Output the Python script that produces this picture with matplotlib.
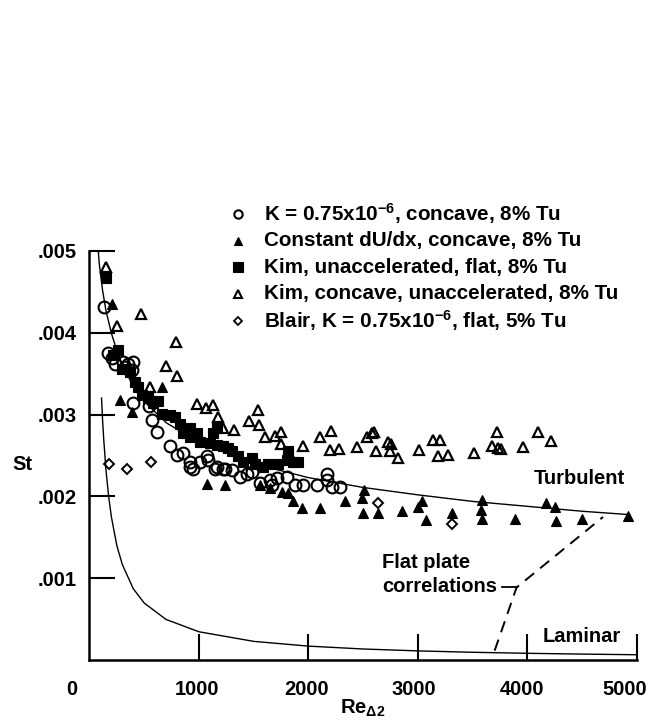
import matplotlib
matplotlib.use("Agg")
import matplotlib.pyplot as plt
from matplotlib.transforms import ScaledTranslation, offset_copy

plt.rcParams['font.family'] = ['Liberation Sans', 'DejaVu Sans']
plt.rcParams['font.weight'] = 'bold'
plt.rcParams['font.size'] = 14.5
plt.rcParams['mathtext.fontset'] = 'custom'
plt.rcParams['mathtext.bf'] = 'Liberation Sans:bold'
plt.rcParams['mathtext.rm'] = 'Liberation Sans:bold'
plt.rcParams['mathtext.it'] = 'Liberation Sans:bold'
plt.rcParams['mathtext.default'] = 'bf'

# --- K = 0.75e-6, concave, 8% Tu (open circles)
circ_re = [132, 172, 202, 233, 309, 324, 354, 385, 400, 400, 540, 568, 613, 735,
           796, 850, 918, 918, 948, 1009, 1070, 1085, 1146, 1161, 1222, 1237, 1298,
           1374, 1435, 1481, 1557, 1648, 1663, 1709, 1800, 1876, 1952, 2074, 2165,
           2165, 2211, 2287]
circ_st = [0.00431, 0.00375, 0.00369, 0.00362, 0.00364, 0.00358, 0.00362, 0.00354,
           0.00364, 0.00314, 0.00310, 0.00293, 0.00279, 0.00261, 0.00251, 0.00253,
           0.00242, 0.00236, 0.00234, 0.00242, 0.00249, 0.00245, 0.00234, 0.00236,
           0.00234, 0.00233, 0.00232, 0.00224, 0.00228, 0.00230, 0.00216, 0.00220,
           0.00214, 0.00222, 0.00224, 0.00214, 0.00214, 0.00214, 0.00228, 0.00220,
           0.00212, 0.00212]

# --- Constant dU/dx, concave, 8% Tu (filled triangles)
ftri_re = [202, 279, 385, 659, 1070, 1237, 1557, 1648, 1755, 1815, 1861, 1937, 2104,
           2333, 2485, 2506, 2494, 2637, 2850, 3002, 3033, 3072, 3307, 3572, 3581,
           3581, 3885, 4168, 4250, 4259, 4494, 4919]
ftri_st = [0.00435, 0.00318, 0.00303, 0.00333, 0.00215, 0.00214, 0.00214, 0.00210,
           0.00206, 0.00204, 0.00194, 0.00186, 0.00186, 0.00194, 0.00198, 0.00208,
           0.00180, 0.00180, 0.00182, 0.00187, 0.00194, 0.00171, 0.00180, 0.00184,
           0.00196, 0.00173, 0.00173, 0.00192, 0.00187, 0.00170, 0.00173, 0.00176]

# --- Kim, unaccelerated, flat, 8% Tu (filled squares)
sq_re = [151, 217, 263, 294, 370, 415, 446, 477, 537, 583, 628, 659, 735, 781, 826,
         857, 918, 918, 979, 1009, 1100, 1130, 1161, 1161, 1222, 1267, 1298, 1359,
         1404, 1481, 1511, 1587, 1632, 1724, 1800, 1815, 1861, 1906]
sq_st = [0.00466, 0.00373, 0.00379, 0.00356, 0.00352, 0.00340, 0.00334, 0.00324,
         0.00320, 0.00314, 0.00316, 0.00301, 0.00299, 0.00297, 0.00289, 0.00278,
         0.00283, 0.00273, 0.00277, 0.00267, 0.00265, 0.00277, 0.00283, 0.00263,
         0.00261, 0.00259, 0.00255, 0.00249, 0.00242, 0.00247, 0.00240, 0.00236,
         0.00240, 0.00240, 0.00245, 0.00255, 0.00242, 0.00242]

# --- Kim, concave, unaccelerated, 8% Tu (open triangles)
otri_re = [148, 254, 370, 470, 552, 698, 790, 802, 979, 1064, 1131, 1176, 1222, 1322,
           1459, 1541, 1548, 1602, 1694, 1746, 1748, 1822, 1952, 2104, 2202, 2196,
           2281, 2440, 2531, 2577, 2598, 2616, 2728, 2750, 2744, 2820, 3009, 3139,
           3200, 3185, 3276, 3513, 3672, 3718, 3733, 3754, 3961, 4098, 4213]
otri_st = [0.00480, 0.00408, 0.00356, 0.00423, 0.00334, 0.00359, 0.00388, 0.00347,
           0.00313, 0.00308, 0.00312, 0.00297, 0.00284, 0.00281, 0.00292, 0.00305,
           0.00287, 0.00272, 0.00274, 0.00279, 0.00264, 0.00253, 0.00261, 0.00272,
           0.00280, 0.00257, 0.00258, 0.00260, 0.00272, 0.00277, 0.00279, 0.00256,
           0.00267, 0.00264, 0.00255, 0.00247, 0.00257, 0.00269, 0.00269, 0.00249,
           0.00251, 0.00253, 0.00261, 0.00279, 0.00259, 0.00258, 0.00260, 0.00279,
           0.00268]

# --- Blair, K = 0.75e-6, flat, 5% Tu (open diamonds)
dia_re = [178, 340, 559, 2637, 3307]
dia_st = [0.00240, 0.00233, 0.00242, 0.00192, 0.00167]

# --- Flat plate correlation curves
turb_re = [80, 90, 100, 120, 150, 200, 250, 300, 400, 500, 700, 1000, 1500, 2000,
           2500, 3000, 3500, 4000, 4500, 4920]
turb_st = [0.00500, 0.00483, 0.00472, 0.00451, 0.00427, 0.00399, 0.00378, 0.00361,
           0.00334, 0.00316, 0.00290, 0.00266, 0.00240, 0.00223, 0.00211, 0.00202,
           0.00194, 0.00188, 0.00182, 0.00178]

lam_re = [110, 120, 130, 150, 175, 200, 250, 300, 400, 500, 700, 1000, 1500, 2000,
          2500, 3000, 3500, 4000, 4500, 5000]
lam_st = [0.00320, 0.00292, 0.00270, 0.00233, 0.00200, 0.00175, 0.00140, 0.00117,
          0.000875, 0.00070, 0.00050, 0.00035, 0.000233, 0.000175, 0.00014,
          0.000117, 0.00010, 0.0000875, 0.0000778, 0.00007]

trans_re = [3700, 3900, 4690]
trans_st = [0.00012, 0.00089, 0.00175]

xticks = [1000, 2000, 3000, 4000, 5000]
yticks = [0.001, 0.002, 0.003, 0.004, 0.005]
ytick_labels = ['.001', '.002', '.003', '.004', '.005']

legend_labels = [
    r'K = 0.75x10$^{-6}$, concave, 8% Tu',
    'Constant dU/dx, concave, 8% Tu',
    'Kim, unaccelerated, flat, 8% Tu',
    'Kim, concave, unaccelerated, 8% Tu',
    r'Blair, K = 0.75x10$^{-6}$, flat, 5% Tu',
]

fig = plt.figure(figsize=(6.48, 7.27), dpi=100)
ax = fig.add_axes([0.1381, 0.0915, 0.8449, 0.5639])
ax.set_xlim(0, 5000)
ax.set_ylim(0, 0.005)

# correlation curves
ax.plot(turb_re, turb_st, color='black', lw=1.0, zorder=2)
ax.plot(lam_re, lam_st, color='black', lw=1.0, zorder=2)
ax.plot(trans_re, trans_st, color='black', lw=1.4, dashes=(6, 4), zorder=2)
ax.plot([3765, 3905], [0.00090, 0.00090], color='black', lw=1.3, zorder=2)

styles = [
    dict(marker='o', ms=8.5, mfc='none', mec='black', mew=1.5),
    dict(marker='^', ms=7.5, mfc='black', mec='black', mew=0.8),
    dict(marker='s', ms=7.5, mfc='black', mec='black', mew=0.8),
    dict(marker='^', ms=7.5, mfc='none', mec='black', mew=1.6),
    dict(marker='D', ms=5.5, mfc='none', mec='black', mew=1.4),
]
series = [(circ_re, circ_st), (ftri_re, ftri_st), (sq_re, sq_st),
          (otri_re, otri_st), (dia_re, dia_st)]
for (xs, ys), st in zip(series, styles):
    ax.plot(xs, ys, ls='none', clip_on=False, zorder=3, **st)

# legend block above the data
leg_styles = [
    dict(marker='o', ms=6, mfc='none', mec='black', mew=1.5),
    dict(marker='^', ms=6, mfc='black', mec='black', mew=0.8),
    dict(marker='s', ms=7.5, mfc='black', mec='black', mew=0.8),
    dict(marker='^', ms=6, mfc='none', mec='black', mew=1.5),
    dict(marker='D', ms=4.5, mfc='none', mec='black', mew=1.3),
]
leg_x = 1358
leg_tx = 1590
leg_y0 = 0.005445
leg_dy = 0.000325
for i, (lab, st) in enumerate(zip(legend_labels, leg_styles)):
    y = leg_y0 - i * leg_dy
    ax.plot([leg_x], [y], ls='none', clip_on=False, **st)
    ax.text(leg_tx, y, lab, ha='left', va='center', clip_on=False, fontsize=14.9)

# annotations
ax.text(4058, 0.00222, 'Turbulent', ha='left', va='center')
ax.text(4140, 0.00029, 'Laminar', ha='left', va='center')
ax.text(2670, 0.00119, 'Flat plate', ha='left', va='center')
ax.text(2670, 0.00090, 'correlations', ha='left', va='center')

# axes styling
for side in ('top', 'right'):
    ax.spines[side].set_visible(False)
for side in ('left', 'bottom'):
    ax.spines[side].set_linewidth(1.8)
ax.set_xticks(xticks)
ax.set_xticklabels([str(t) for t in xticks])
ax.set_yticks(yticks)
ax.set_yticklabels(ytick_labels)
ax.tick_params(axis='both', direction='in', length=19, width=1.5)
ax.tick_params(axis='x', pad=14)
ax.tick_params(axis='y', pad=9)

# x tick labels sit a little to the left of their ticks
label_shift_pt = [-1.5, -1.5, -3, -4, -9]
for lab, dx in zip(ax.get_xticklabels(), label_shift_pt):
    lab.set_transform(lab.get_transform() + ScaledTranslation(dx / 72, 0, fig.dpi_scale_trans))

# origin label to the left of the y axis
ax.text(-160, 0, '0', ha='center', va='top', clip_on=False,
        transform=offset_copy(ax.transData, fig=fig, x=0, y=-14, units='points'))

fig.text(22 / 648, 1 - 465 / 727, 'St', ha='center', va='center')
fig.text(0.5603, 1 - 708 / 727, r'Re$_{\Delta 2}$', ha='center', va='center')

fig.savefig('out.png', dpi=100)
